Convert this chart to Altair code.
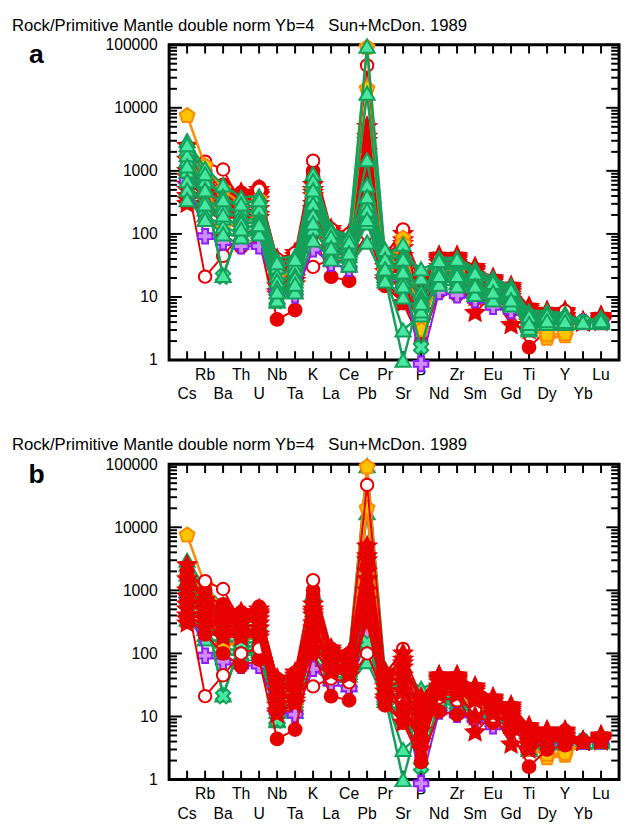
import altair as alt
import pandas as pd

# ---------------- data ----------------
ELEMENTS = ["Cs", "Rb", "Ba", "Th", "U", "Nb", "Ta", "K", "La", "Ce", "Pb", "Pr",
            "Sr", "P", "Nd", "Zr", "Sm", "Eu", "Gd", "Ti", "Dy", "Y", "Yb", "Lu"]
LABEL_ROW = [1, 0, 1, 0, 1, 0, 1, 0, 1, 0, 1, 0, 1, 0, 1, 0, 1, 0, 1, 0, 1, 0, 1, 0]

Y_MAJOR = [1, 10, 100, 1000, 10000, 100000]
Y_MINOR = [m * 10 ** k for k in range(5) for m in range(2, 10)]

TITLE = "Rock/Primitive Mantle double norm Yb=4\u00a0\u00a0\u00a0Sun+McDon. 1989"

#           Cs    Rb    Ba   Th   U    Nb  Ta  K     La   Ce   Pb     Pr  Sr   P     Nd  Zr  Sm  Eu  Gd  Ti   Dy   Y    Yb Lu
GREEN_TRI = [
    [3000, 1100, 600, 380, 400, 40, 45, 900, 120, 95, 95000, 45, 69, 20, 42, 42, 28, 20, 15, 6.0, 6.0, 5.5, 4, 4.8],
    [2200, 700, 400, 250, 300, 30, 35, 600, 100, 80, 17000, 38, 45, 28, 35, 35, 22, 16, 12, 5.0, 5.0, 5.0, 4, 4.5],
    [1500, 500, 300, 200, 250, 22, 28, 400, 80, 65, 1500, 30, 28, 12, 30, 28, 18, 14, 11, 4.5, 4.8, 4.5, 4, 4.4],
    [1000, 350, 250, 170, 170, 18, 22, 300, 70, 55, 600, 25, 18, 7.4, 25, 25, 16, 12, 10, 4.0, 4.5, 4.2, 4, 4.2],
    [700, 250, 180, 130, 130, 14, 18, 200, 55, 45, 300, 22, 3.0, 5.2, 20, 20, 13, 11, 9, 3.5, 4.0, 4.0, 4, 4.0],
    [500, 200, 130, 100, 110, 10, 14, 120, 45, 38, 150, 20, 1.0, 12, 18, 17, 12, 10, 8, 3.0, 3.8, 3.8, 4, 4.0],
    [350, 170, 100, 90, 100, 8.6, 12, 80, 40, 32, 74, 18, 10, 6, 16, 15, 11, 9, 7.5, 3.2, 3.8, 3.8, 4, 4.1],
    [1800, 500, 22, 150, 150, 9, 20, 700, 110, 90, 390, 57, 40, 10, 40, 38, 25, 18, 14, 5.5, 5.5, 5.2, 4, 4.6],
    [2600, 900, 350, 300, 350, 35, 40, 500, 90, 75, 240, 40, 25, 9, 38, 40, 24, 17, 13, 5.0, 5.2, 5.0, 4, 4.5],
    [1200, 300, 200, 120, 140, 12, 16, 150, 60, 50, 170, 28, 15, 8, 22, 22, 15, 12, 9, 3.8, 4.2, 4.1, 4, 4.2],
]

RED_CIRCLE = [
    [400, 200, 100, 62, 80, 4.4, 6.2, 100, 21, 18, 500, 15, 8, 1.9, 12, 10.7, 10, 8, 6, 1.6, 3.0, 3.5, 4, 4.0],
    [1200, 800, 600, 450, 550, 25, 30, 1000, 100, 80, 4800, 30, 25, 8, 30, 28, 20, 15, 12, 5.0, 5.0, 5.0, 4, 4.5],
    [800, 600, 400, 300, 350, 15, 20, 600, 80, 70, 1100, 25, 15, 5, 25, 24, 18, 13, 10, 4.0, 4.5, 4.5, 4, 4.3],
    [2000, 1000, 500, 350, 400, 30, 35, 800, 110, 90, 2500, 40, 12, 4, 35, 30, 22, 16, 12, 5.5, 5.0, 5.0, 4, 4.6],
]

RED_OPEN = [
    [700, 21, 45, 100, 120, 25, 30, 30, 40, 35, 100, 20, 20, 5, 20, 18, 13, 10, 8, 4.0, 4.5, 4.5, 4, 4.3],
    [1500, 1400, 1050, 300, 500, 40, 50, 1450, 120, 100, 47000, 45, 118, 6, 40, 35, 25, 18, 14, 5.0, 5.5, 6.0, 4, 4.5],
]

RED_STAR = [
    [1500, 700, 500, 450, 500, 40, 50, 600, 120, 100, 5000, 50, 100, 20, 45, 45, 30, 20, 15, 7.0, 6.0, 6.0, 4, 5.0],
    [1000, 600, 400, 400, 450, 30, 40, 500, 100, 90, 3000, 45, 80, 15, 40, 40, 27, 18, 13, 6.0, 5.5, 5.5, 4, 4.8],
    [800, 500, 350, 350, 400, 25, 35, 400, 90, 80, 2000, 40, 60, 12, 38, 38, 25, 17, 12, 5.5, 5.0, 5.0, 4, 4.6],
    [600, 450, 300, 300, 350, 20, 30, 300, 80, 70, 1500, 35, 45, 10, 35, 35, 22, 15, 11, 5.0, 5.0, 5.0, 4, 4.5],
    [500, 400, 280, 250, 300, 18, 25, 250, 70, 60, 1000, 30, 35, 8, 30, 30, 20, 14, 10, 4.5, 4.8, 4.8, 4, 4.4],
    [400, 350, 250, 220, 250, 15, 20, 200, 60, 55, 700, 25, 25, 6, 28, 28, 18, 13, 9, 4.0, 4.5, 4.5, 4, 4.3],
    [350, 300, 200, 200, 200, 12, 18, 150, 55, 50, 400, 20, 15, 4, 25, 25, 10, 12, 7, 3.5, 4.3, 4.3, 4, 4.2],
    [300, 250, 180, 180, 180, 11, 16, 120, 50, 45, 300, 18, 8, 3, 22, 22, 5.6, 11, 3.6, 3.0, 4.0, 4.0, 4, 4.0],
    [2500, 550, 450, 300, 420, 35, 45, 450, 110, 95, 3500, 42, 70, 18, 42, 42, 28, 19, 14, 6.5, 5.8, 5.8, 4, 4.9],
]

ORANGE_PENT = [
    [7500, 1200, 500, 300, 350, 20, 25, 500, 80, 70, 90000, 30, 85, 3.6, 25, 25, 16, 12, 9, 3.5, 2.2, 2.4, 4, 4.0],
    [1600, 630, 130, 150, 200, 11, 15, 400, 70, 60, 20000, 25, 70, 3.0, 22, 22, 15, 11, 8, 3.0, 2.5, 2.6, 4, 4.0],
]

PURPLE_CROSS = [
    [700, 92, 74, 64, 64, 12, 10.7, 57, 34, 28, 200, 20, 20, 0.87, 12, 10.7, 9, 7, 6, 4.0, 4.0, 4.0, 4, 4.0],
]

GREEN_X = [
    [1000, 500, 21, 150, 150, 8.6, 20, 300, 60, 50, 150, 28, 18, 1.6, 18, 20, 12, 10, 8, 5.0, 4.5, 4.3, 4, 4.0],
]

# ---------------- styles ----------------
RED = "#e60000"
GREEN = "#14a05a"
GREEN_FILL = "#48e8a2"
ORANGE = "#ff8a00"
ORANGE_FILL = "#ffc400"
PURPLE = "#8a1cff"
PURPLE_FILL = "#cf8cff"
FONT = "Liberation Sans"

STAR = ("M0,-1L0.28,-0.38L0.951,-0.309L0.45,0.147L0.588,0.809L0,0.47"
        "L-0.588,0.809L-0.45,0.147L-0.951,-0.309L-0.28,-0.38Z")
PENTAGON = "M0,-1L0.951,-0.309L0.588,0.809L-0.588,0.809L-0.951,-0.309Z"

GROUPS = {
    "tri": (GREEN_TRI, dict(shape="triangle-up", fill=GREEN_FILL, stroke=GREEN, size=240), GREEN, 2.5),
    "rcirc": (RED_CIRCLE, dict(shape="circle", fill=RED, stroke=RED, size=170), RED, 2),
    "ropen": (RED_OPEN, dict(shape="circle", fill="white", stroke=RED, size=160), RED, 2),
    "star": (RED_STAR, dict(shape=STAR, fill=RED, stroke=RED, size=360), RED, 2),
    "pent": (ORANGE_PENT, dict(shape=PENTAGON, fill=ORANGE_FILL, stroke=ORANGE, size=250), ORANGE, 2.5),
    "purp": (PURPLE_CROSS, dict(shape="cross", fill=PURPLE_FILL, stroke=PURPLE, size=220), PURPLE, 2),
    "gx": (GREEN_X, dict(shape="cross", angle=45, fill=GREEN_FILL, stroke=GREEN, size=220), GREEN, 2.5),
}

W, H = 458, 321


def group_df(key):
    rows = []
    for i, series in enumerate(GROUPS[key][0]):
        for j, v in enumerate(series):
            rows.append({"sample": f"{key}{i}", "element": ELEMENTS[j], "pos": j + 1, "value": v})
    return pd.DataFrame(rows)


XS = alt.Scale(domain=[0, len(ELEMENTS) + 1], nice=False, zero=False)
YS = alt.Scale(type="log", domain=[1, 100000], nice=False)
YAXIS = alt.Axis(values=Y_MAJOR, format="d", ticks=False, domain=False, grid=False, title=None,
                 labelPadding=12, labelFontSize=16, labelFont=FONT, labelColor="black")


def xenc():
    return alt.X("pos:Q", scale=XS, axis=None)


def yenc(field="value"):
    return alt.Y(f"{field}:Q", scale=YS, axis=YAXIS)


def group_layers(key):
    data, mstyle, lcolor, lw = GROUPS[key]
    df = group_df(key)
    line = alt.Chart(df).mark_line(color=lcolor, strokeWidth=lw).encode(
        x=xenc(), y=yenc(), detail="sample:N")
    pts = alt.Chart(df).mark_point(opacity=1, strokeWidth=2, **mstyle).encode(
        x=xenc(), y=yenc())
    return [line, pts]


def frame_layers():
    xt = pd.DataFrame({"pos": list(range(1, len(ELEMENTS) + 1))})
    maj = pd.DataFrame({"value": Y_MAJOR})
    mnr = pd.DataFrame({"value": Y_MINOR})
    lab = pd.DataFrame({"element": ELEMENTS, "pos": list(range(1, len(ELEMENTS) + 1)), "row": LABEL_ROW})
    layers = [
        alt.Chart(maj).mark_rule(color="black", strokeWidth=2).encode(
            y=yenc(), x=alt.value(0), x2=alt.value(13)),
        alt.Chart(maj).mark_rule(color="black", strokeWidth=2).encode(
            y=yenc(), x=alt.value(W - 13), x2=alt.value(W)),
        alt.Chart(mnr).mark_rule(color="black", strokeWidth=2).encode(
            y=yenc(), x=alt.value(0), x2=alt.value(8)),
        alt.Chart(mnr).mark_rule(color="black", strokeWidth=2).encode(
            y=yenc(), x=alt.value(W - 8), x2=alt.value(W)),
        alt.Chart(xt).mark_rule(color="black", strokeWidth=2).encode(
            x=xenc(), y=alt.value(H - 9), y2=alt.value(H)),
        alt.Chart(xt).mark_rule(color="black", strokeWidth=2).encode(
            x=xenc(), y=alt.value(0), y2=alt.value(9)),
        alt.Chart(lab[lab["row"] == 0]).mark_text(
            font=FONT, fontSize=16, baseline="middle", align="center", color="black").encode(
            x=xenc(), y=alt.value(H + 15), text="element:N"),
        alt.Chart(lab[lab["row"] == 1]).mark_text(
            font=FONT, fontSize=16, baseline="middle", align="center", color="black").encode(
            x=xenc(), y=alt.value(H + 35), text="element:N"),
    ]
    return layers


def panel(letter, order):
    layers = frame_layers()
    for key in order:
        layers += group_layers(key)
    txt = pd.DataFrame({"t": [TITLE], "l": [letter]})
    layers.append(alt.Chart(txt).mark_text(
        font=FONT, fontSize=17, align="left", baseline="alphabetic", color="black").encode(
        x=alt.value(-160), y=alt.value(-14), text="t:N"))
    layers.append(alt.Chart(txt).mark_text(
        font=FONT, fontSize=27, fontWeight="bold", align="center", baseline="middle", color="black").encode(
        x=alt.value(-135), y=alt.value(11), text="l:N"))
    return alt.layer(*layers).properties(width=W, height=H)


ORDER_A = ["star", "rcirc", "ropen", "pent", "purp", "gx", "tri"]
ORDER_B = ["tri", "pent", "purp", "gx", "rcirc", "ropen", "star"]

chart = alt.vconcat(panel("a", ORDER_A), panel("b", ORDER_B), spacing=31).properties(
    padding={"left": 2, "top": 0, "right": 0, "bottom": 0}
).configure_view(stroke="black", strokeWidth=3)

chart.save("out.html", embed_options={"renderer": "svg", "actions": False})
